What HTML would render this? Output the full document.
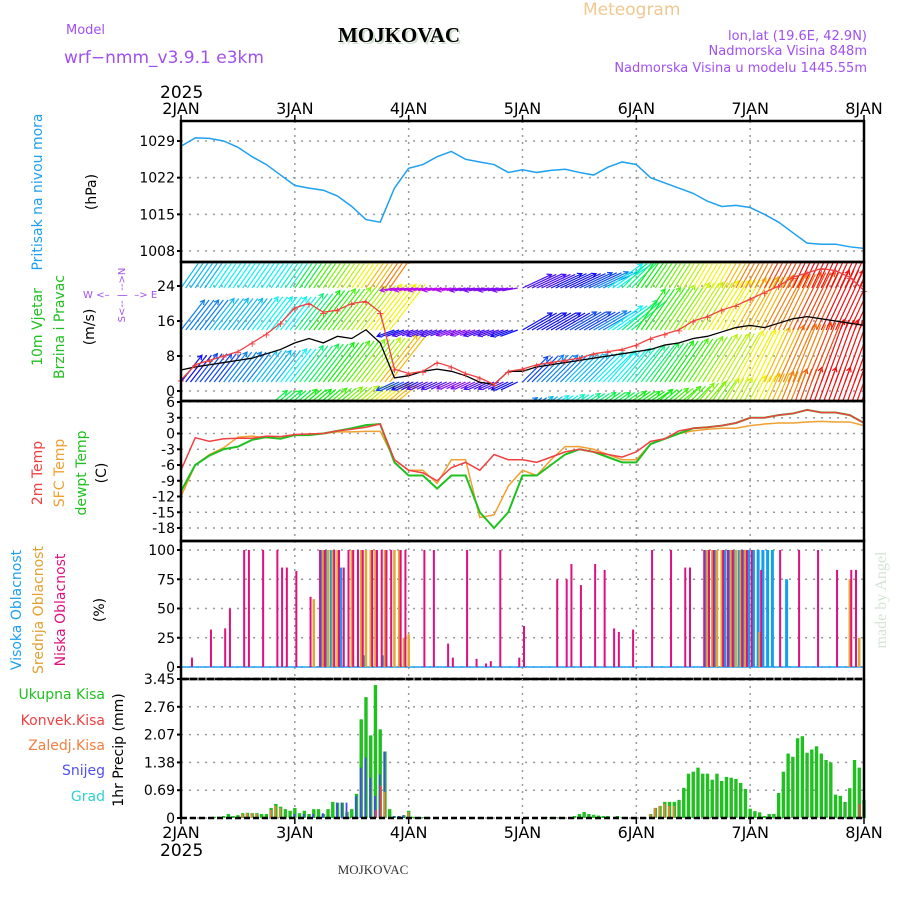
<!DOCTYPE html>
<html><head><meta charset="utf-8"><style>
body{margin:0;background:#fff;}
svg text{font-family:"DejaVu Sans","Liberation Sans",sans-serif;}
</style></head><body>
<svg id="c" width="900" height="900" viewBox="0 0 900 900" xmlns="http://www.w3.org/2000/svg">
<g>
<text x="66" y="34" font-size="13" fill="#a050f0">Model</text>
<text x="64" y="63" font-size="17" fill="#a050f0">wrf−nmm_v3.9.1 e3km</text>
<text x="401" y="44" font-size="21" font-weight="bold" text-anchor="middle" fill="#cfe0cf" style="font-family:'Liberation Serif',serif">MOJKOVAC</text>
<text x="399" y="42" font-size="21" font-weight="bold" text-anchor="middle" fill="#000" style="font-family:'Liberation Serif',serif">MOJKOVAC</text>
<text x="583" y="15" font-size="17" fill="#f0c890">Meteogram</text>
<text x="867" y="40" font-size="13" text-anchor="end" fill="#a050f0">lon,lat (19.6E, 42.9N)</text>
<text x="867" y="55" font-size="13" text-anchor="end" fill="#a050f0">Nadmorska Visina 848m</text>
<text x="867" y="72" font-size="13" text-anchor="end" fill="#a050f0">Nadmorska Visina u modelu 1445.55m</text>
<text x="160" y="98" font-size="17" fill="#000">2025</text>
<text x="160" y="856" font-size="17" fill="#000">2025</text>
<text x="373" y="874" font-size="13" text-anchor="middle" fill="#333" style="font-family:'Liberation Serif',serif">MOJKOVAC</text>
<text transform="translate(886,600) rotate(-90)" font-size="16" text-anchor="middle" fill="#d4e4d4" style="font-family:'Liberation Serif',serif">made by Angel</text>
</g>
<g>
<text transform="translate(42,192) rotate(-90)" font-size="14" text-anchor="middle" fill="#1ea0f0">Pritisak na nivou mora</text>
<text transform="translate(96,192) rotate(-90)" font-size="14" text-anchor="middle" fill="#000">(hPa)</text>
<text transform="translate(42,327) rotate(-90)" font-size="14" text-anchor="middle" fill="#20c020">10m Vjetar</text>
<text transform="translate(64,327) rotate(-90)" font-size="14" text-anchor="middle" fill="#20c020">Brzina i Pravac</text>
<text transform="translate(94,327) rotate(-90)" font-size="14" text-anchor="middle" fill="#000">(m/s)</text>
<g font-size="10" fill="#a050f0" text-anchor="middle">
<text transform="translate(125,295) rotate(-90)">S&lt;-- | --&gt;N</text>
<text x="88" y="298">W</text><text x="103" y="298">&lt;–</text><text x="141" y="298">–&gt;</text><text x="154" y="298">E</text>
</g>
<text transform="translate(42,473) rotate(-90)" font-size="14" text-anchor="middle" fill="#f04040">2m Temp</text>
<text transform="translate(64,473) rotate(-90)" font-size="14" text-anchor="middle" fill="#f0a030">SFC Temp</text>
<text transform="translate(86,473) rotate(-90)" font-size="14" text-anchor="middle" fill="#20c020">dewpt Temp</text>
<text transform="translate(106,473) rotate(-90)" font-size="14" text-anchor="middle" fill="#000">(C)</text>
<text transform="translate(21,610) rotate(-90)" font-size="14" text-anchor="middle" fill="#1ea0f0">Visoka Oblacnost</text>
<text transform="translate(43,610) rotate(-90)" font-size="14" text-anchor="middle" fill="#e0a030">Srednja Oblacnost</text>
<text transform="translate(65,610) rotate(-90)" font-size="14" text-anchor="middle" fill="#e0107f">Niska Oblacnost</text>
<text transform="translate(104,610) rotate(-90)" font-size="14" text-anchor="middle" fill="#000">(%)</text>
<g font-size="14" text-anchor="end">
<text x="105" y="699" fill="#20c020">Ukupna Kisa</text>
<text x="105" y="725" fill="#f04040">Konvek.Kisa</text>
<text x="105" y="750" fill="#f08040">Zaledj.Kisa</text>
<text x="105" y="775" fill="#5050f0">Snijeg</text>
<text x="105" y="801" fill="#30d0d0">Grad</text>
</g>
<text transform="translate(123,750) rotate(-90)" font-size="14" text-anchor="middle" fill="#000">1hr Precip (mm)</text>
</g>
<g id="plots"></g>
</svg>
<script>
const days = ["2JAN","3JAN","4JAN","5JAN","6JAN","7JAN","8JAN"];
const pressure = [1028,1029.6,1029.5,1029,1027.8,1026,1024.5,1022.5,1020.5,1020,1019.6,1018.5,1016.5,1014,1013.5,1020,1023.8,1024.5,1026,1027,1025.5,1025,1024.5,1023,1023.5,1023,1023.4,1023.6,1023,1022.5,1024,1025,1024.5,1022,1021,1020,1019,1017.5,1016.5,1016.7,1016.3,1015,1013.5,1011.5,1009.5,1009.3,1009.3,1008.8,1008.5];
const pressureTicks = [1008,1015,1022,1029];
const windSpeed = [4.8,5.5,6,6.5,7,7.5,8.5,9.5,11,12,11,12.5,12,14,11,3,3.5,4.5,5,4.5,3.5,2,1.5,4.5,4.5,5.5,6,6.5,7,7.5,8,8.5,9,9.5,10.5,11,12,12.5,13.5,14.5,15,14.5,15.5,16.5,17,16.5,16,15.5,15];
const windGust = [2.5,6,7,8,9,11,13,15.5,19,20,18,18.5,20,20.5,18,5,4,4.5,6.5,5.5,4,3,1.5,4.5,5,6,6.5,7,7.5,8.5,9,9.5,10.5,12,13,14,16,17,18.5,19.5,21,22.5,24,26,27,28,27.5,26,23];
const windTicks = [0,8,16,24];
const lvl1Speed = [8,9,9,10,10,11,11,12,14,15,16,17,18,19,21,9,8,7,7,6,6,7,7,8,9,10,10,11,11,12,12,13,14,15,16,17,18,19,19,20,20,21,22,22,23,24,24,24,24];
const lvl1Dir = [52,52,52,52,52,52,52,52,52,52,52,52,52,52,52,205,205,205,205,205,205,205,205,205,45,45,45,45,45,45,48,50,52,54,55,56,57,58,60,62,64,65,66,68,68,70,70,70,70];
const lvl2Speed = [10,10,11,11,11,12,12,12,14,16,17,18,19,20,20,8,7,7,7,6,6,7,7,8,8,8,8,9,9,10,12,14,16,17,18,19,19,20,20,21,21,22,22,23,23,24,24,24,24];
const lvl2Dir = [52,52,52,52,52,52,52,52,52,52,52,52,52,52,52,200,200,200,200,200,200,200,200,200,30,30,30,30,30,30,35,40,55,55,56,57,58,58,60,60,62,62,64,64,65,65,65,65,65];
const lvl3Speed = [11,11,12,12,12,12,12,13,15,17,18,19,20,21,22,5,5,5,5,5,6,6,6,6,7,7,8,8,9,10,12,14,16,17,18,19,20,20,21,22,22,23,23,24,24,24,24,24,24];
const lvl3Dir = [55,55,55,55,55,55,55,55,55,55,55,55,55,55,55,190,190,190,190,190,190,190,190,190,25,25,25,25,25,25,35,45,55,56,57,58,59,60,60,61,62,62,63,64,65,65,65,65,65];
const lvl4Speed = [0,0,0,0,0,0,15,15,16,16,17,18,19,20,21,9,9,8,8,7,7,7,8,8,10,11,12,13,14,15,15,16,16,16,17,17,18,18,19,19,20,21,22,23,24,24,24,24,24];
const lvl4Dir = [45,45,45,45,45,45,40,40,40,40,40,40,40,40,40,210,210,210,210,210,210,210,210,210,35,35,35,35,35,35,35,35,35,40,40,45,50,55,60,62,64,66,68,70,70,70,70,70,70];
const temp2m = [-7,-0.8,-1.5,-1,-0.9,-0.9,-0.5,-0.6,-0.2,-0.1,0,0.5,0.8,1.2,1.8,-5,-7,-7.5,-9,-6.5,-5.5,-7,-4,-5,-5,-5.5,-4.5,-3.5,-3,-3.5,-4,-4.5,-3.5,-1.5,-1,0.5,1,1.2,1.5,2,3,3,3.5,3.8,4.5,4,4,3.5,2];
const tempSfc = [-12,-6,-4,-2.7,-0.7,-0.5,-0.8,-1,-0.3,-0.1,0,0.3,0.3,0.4,0.4,-5,-7,-7,-9.5,-5,-5,-16,-15.5,-10,-7,-8,-5,-2.5,-2.5,-3,-4,-5,-5,-2,-1,0,0.5,0.8,1,1,1.5,1.8,2,2,2.2,2.3,2.2,2.2,1.5];
const tempDew = [-11,-6,-4.2,-3,-2.5,-1.2,-0.7,-1,-0.3,-0.3,0,0.5,1,1.6,1.8,-5.5,-8,-8,-10.5,-8,-8,-15,-18,-15,-8,-8,-6,-4,-3,-3.5,-4.5,-5.5,-5.5,-2,-1,0,1,1.2,1.5,2,3,3,3.5,3.8,4.5,4,4,3.5,2];
const tempTicks = [-18,-15,-12,-9,-6,-3,0,3,6];
const cloudTicks = [0,25,50,75,100];
const lowHours = [2,6,9,10,13,14,17,20,21,22,24,27,29,30,32,33,34,35,36,37,38,40,41,42,43,44,46,47,51,53,56,57,60,62,64,65,67,71,72,79,81,82,84,87,89,91,92,95,99,103,106,107,110,111,112,114,115,116,118,119,120,122,126,130,134,138,141,142];
const lowVals = [8,32,33,50,100,100,100,100,85,85,82,60,100,100,100,100,85,100,100,100,100,100,100,100,100,100,100,100,100,100,20,8,100,7,3,5,100,8,35,75,75,88,70,88,83,33,30,32,100,100,85,85,100,100,100,100,100,100,100,100,100,83,100,100,100,83,83,83];
const midHours = [28,30,31,32,33,36,38,39,40,41,43,45,46,47,48,111,112,113,114,116,117,118,119,122,141,143];
const midVals = [58,100,100,100,100,100,100,100,100,100,100,100,100,25,28,100,100,100,100,100,100,100,100,30,75,25];
const highHours = [30,31,32,34,39,43,111,113,115,116,117,118,119,120,121,122,123,124,125,128];
const highVals = [100,100,100,85,10,10,100,100,100,100,100,100,100,100,100,100,100,100,100,75];
const precipTotal = [0,0,0,0,0,0,0,0.03,0.03,0.05,0.1,0.05,0.07,0.12,0.13,0.12,0.12,0.1,0.1,0.25,0.35,0.28,0.22,0.18,0.25,0.12,0.18,0.1,0.22,0.22,0.1,0.22,0.4,0.38,0.38,0.15,0.22,0.6,2.45,3.0,2.05,3.3,2.2,1.65,0.22,0.05,0.05,0.07,0.18,0.03,0.02,0.02,0.02,0,0,0,0,0,0,0,0,0,0,0,0,0,0,0,0,0,0,0,0,0,0,0,0,0.02,0,0.02,0,0,0,0.05,0.1,0.15,0.1,0.08,0.06,0.05,0.05,0,0.05,0.02,0,0,0,0,0,0.1,0.25,0.3,0.4,0.4,0.4,0.45,0.75,1.1,1.15,1.25,1.1,1.1,0.95,1.1,0.92,1.02,1.0,0.97,0.87,0.72,0.23,0.17,0.14,0.05,0.1,0.1,0.62,1.15,1.6,1.52,1.98,2.03,1.62,1.7,1.78,1.6,1.44,1.38,0.58,0.55,0.4,0.74,1.44,1.25,0.45];
const snowHours = [24,26,28,30,33,34,35,37,38,39,40,41,42,43,45,46,47];
const snowVals = [0.1,0.1,0.1,0.12,0.38,0.38,0.38,0.55,1.25,1.5,1.0,0.55,1.08,1.65,0.05,0.05,0.07];
const freezeHours = [13,14,15,16,19,20,21,43,48,99,100,101,102,103,104];
const freezeVals = [0.1,0.12,0.12,0.1,0.2,0.3,0.25,0.65,0.15,0.1,0.25,0.3,0.35,0.3,0.3];
const convHours = [41,42,143];
const convVals = [0.2,0.8,0.35];
const precipTicks = [0,0.69,1.38,2.07,2.76,3.45];

const NS="http://www.w3.org/2000/svg";
const root=document.getElementById('plots');
const X0=181,X1=864,HOURS=144;
const xH=h=>X0+(X1-X0)*h/HOURS;
const x3=i=>xH(i*3);
function el(tag,attrs,parent){const e=document.createElementNS(NS,tag);for(const k in attrs)e.setAttribute(k,attrs[k]);(parent||root).appendChild(e);return e;}
function scale(v0,v1,y0,y1){return v=>y0+(v-v0)*(y1-y0)/(v1-v0);}
function panel(name,top,bot,ticks,y,labFmt){
  const g=el('g',{});
  
  
  for(let d=1;d<6;d++){const l=el('line',{x1:xH(d*24),x2:xH(d*24),y1:top,y2:bot,stroke:'#999','stroke-dasharray':'2,5','stroke-width':1.5},g);
    
    }
  ticks.forEach(t=>{const yy=y(t);
    const l=el('line',{x1:X0,x2:X1,y1:yy,y2:yy,stroke:'#999','stroke-dasharray':'2,6','stroke-width':1.5},g);
    
    
    const tx=el('text',{x:X0-6,y:yy+5,'font-size':14,'text-anchor':'end',fill:'#000'},g);tx.textContent=labFmt?labFmt(t):t;
    
    
    el('line',{x1:X0-4,x2:X0,y1:yy,y2:yy,stroke:'#000','stroke-width':2},g);
  });
  return g;
}
function frame(top,bot){const r=el('rect',{x:X0,y:top,width:X1-X0,height:bot-top,fill:'none',stroke:'#000','stroke-width':2.5});
  
  }
function line(vals,xf,y,color,name,g,w){
  const p=el('polyline',{points:vals.map((v,i)=>xf(i)+','+y(v)).join(' '),fill:'none',stroke:color,'stroke-width':w||1.5},g);
  
  return p;}

// Pressure
const P=[121,262];const yP=scale(1029,1008,141,251);
const gP=panel('pressure-panel',P[0],P[1],pressureTicks,yP);
line(pressure,x3,yP,'#1ea0f0','pressure-line',gP,1.5);
frame(P[0],P[1]);

// Wind
const W=[262,401];const yW=scale(24,0,286,391);
const gW=panel('wind-panel',W[0],W[1],windTicks,yW);
const cp=el('clipPath',{id:'cw'});el('rect',{x:X0,y:W[0],width:X1-X0,height:W[1]-W[0]},cp);
const gA=el('g',{'clip-path':'url(#cw)'},gW);
const levels=[[lvl4Speed,lvl4Dir,408],[lvl1Speed,lvl1Dir,382],[lvl2Speed,lvl2Dir,330],[lvl3Speed,lvl3Dir,288]];
levels.forEach((lv,li)=>{
  const [sp,dr,base]=lv;
  sp.forEach((s,i)=>{ if(s<=0) return;
    const back=dr[i]>90;
    const len=li===0? s*1.8 : (back? 8+s*1.3 : 18+s*2);
    const a=dr[i]*Math.PI/180;
    const x=x3(i),yb=base;
    const x2=x+len*Math.cos(a),y2=yb-len*Math.sin(a);
    const hue=Math.max(0,Math.min(300,240-(s-8)*15));
    const col='hsl('+hue+',90%,50%)';
    for(let k=0;k<3;k++){
      const dx=k*4.74;
      const ln=el('line',{x1:x+dx,y1:yb,x2:x2+dx,y2:y2,stroke:col,'stroke-width':1.2},gA);
      
      
    }
    const hd=el('polyline',{points:(x2-5*Math.cos(a-0.5))+','+(y2+5*Math.sin(a-0.5))+' '+x2+','+y2+' '+(x2-5*Math.cos(a+0.5))+','+(y2+5*Math.sin(a+0.5)),fill:'none',stroke:col,'stroke-width':1.2},gA);
    
    
  });
});
line(windSpeed,x3,yW,'#000','wind-speed-line',gW,1.3);
line(windGust,x3,yW,'#f04040','wind-gust-line',gW,1.3);
windGust.forEach((v,i)=>{const t=el('text',{x:x3(i),y:yW(v)+4,'font-size':10,'text-anchor':'middle',fill:'#f04040'},gW);t.textContent='+';
  
  });
frame(W[0],W[1]);

// Temp
const T=[401,541];const yT=scale(6,-18,402,528);
const gT=panel('temperature-panel',T[0],T[1],tempTicks,yT);
line(tempSfc,x3,yT,'#f0a030','sfc-temp-line',gT);
line(tempDew,x3,yT,'#20c020','dewpoint-line',gT,2);
line(temp2m,x3,yT,'#f04040','temp-2m-line',gT);
frame(T[0],T[1]);

// Clouds
const C=[541,679];const yC=scale(100,0,550,667);
const gC=panel('cloud-panel',C[0],C[1],cloudTicks,yC);
el('line',{x1:X0,x2:X1,y1:yC(0),y2:yC(0),stroke:'#1ea0f0','stroke-width':1.5},gC);
function bars(hours,vals,off,w,color,name,g,yf){
  hours.forEach((h,i)=>{const x=xH(h)+off,y=yf(vals[i]);
    const r=el('rect',{x:x-w/2,y:y,width:w,height:yf(0)-y,fill:color},g);
    
    });
}
bars(highHours,highVals,-1.5,3,'#10a0f0','cloud-high-bar',gC,yC);
bars(midHours,midVals,0,2.5,'#e0a830','cloud-mid-bar',gC,yC);
bars(lowHours,lowVals,1.5,2,'#e0107f','cloud-low-bar',gC,yC);
frame(C[0],C[1]);

// Precip
const R=[679,818];const yR=scale(0,3.45,818,679);
const gR=panel('precip-panel',R[0],R[1],precipTicks,yR,t=>t===0?'0':t.toFixed(2));
bars(precipTotal.map((v,i)=>i),precipTotal,0,3.4,'#20c020','precip-total-bar',gR,yR);
bars(snowHours,snowVals,-0.5,1.8,'#4848f0','precip-snow-bar',gR,yR);
bars(freezeHours,freezeVals,-0.5,1.8,'#f08040','precip-freezing-bar',gR,yR);
bars(convHours,convVals,0.5,1.8,'#f04040','precip-convective-bar',gR,yR);
el('line',{x1:X0,x2:X1,y1:R[0],y2:R[0],stroke:'#000','stroke-width':2.5,'stroke-dasharray':'6,3'});
el('line',{x1:X0,x2:X1,y1:R[1],y2:R[1],stroke:'#000','stroke-width':2.5,'stroke-dasharray':'6,3'});
el('line',{x1:X0,x2:X0,y1:R[0],y2:R[1],stroke:'#000','stroke-width':2.5});
el('line',{x1:X1,x2:X1,y1:R[0],y2:R[1],stroke:'#000','stroke-width':2.5});

// Day labels
days.forEach((d,i)=>{
  [[114,121,115],[838,818,824]].forEach(([ty,a,b])=>{
    const t=el('text',{x:xH(i*24),y:ty,'font-size':16,'text-anchor':'middle',fill:'#000'});t.textContent=d;
    
    
    el('line',{x1:xH(i*24),x2:xH(i*24),y1:a,y2:b,stroke:'#000','stroke-width':1.5});
  });
});
</script>
</body></html>
